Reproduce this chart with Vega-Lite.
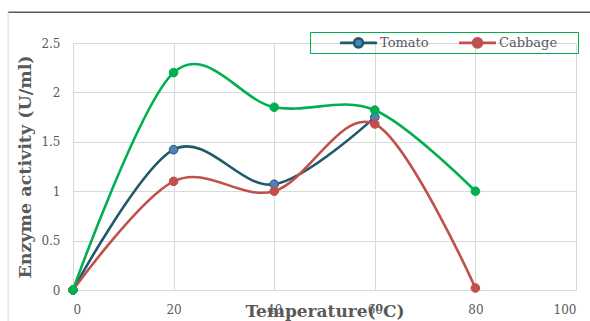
{
  "$schema": "https://vega.github.io/schema/vega-lite/v6.json",
  "autosize": {"type": "none"},
  "width": 503,
  "height": 247,
  "padding": {"left": 73, "top": 43, "right": 14, "bottom": 31},
  "background": "white",
  "config": {
    "view": {"stroke": null},
    "font": "DejaVu Serif",
    "axis": {"labelFont": "DejaVu Serif", "titleFont": "DejaVu Serif", "labelColor": "#595959", "titleColor": "#595959", "gridColor": "#D9D9D9", "gridWidth": 1, "domain": false, "ticks": false}
  },
  "datasets": {
    "main": [
      {"series": "Tomato", "temp": 0, "activity": 0},
      {"series": "Tomato", "temp": 20, "activity": 1.42},
      {"series": "Tomato", "temp": 40, "activity": 1.07},
      {"series": "Tomato", "temp": 60, "activity": 1.75},
      {"series": "Cabbage", "temp": 0, "activity": 0},
      {"series": "Cabbage", "temp": 20, "activity": 1.10},
      {"series": "Cabbage", "temp": 40, "activity": 1.00},
      {"series": "Cabbage", "temp": 60, "activity": 1.68},
      {"series": "Cabbage", "temp": 80, "activity": 0.02},
      {"series": "Series 3", "temp": 0, "activity": 0},
      {"series": "Series 3", "temp": 20, "activity": 2.20},
      {"series": "Series 3", "temp": 40, "activity": 1.85},
      {"series": "Series 3", "temp": 60, "activity": 1.82},
      {"series": "Series 3", "temp": 80, "activity": 1.00}
    ],
    "frame": [
      {"x1": -12.9, "x2": 103, "ytop": 2.81, "ybot": -0.32}
    ]
  },
  "layer": [
    {
      "data": {"name": "frame"},
      "mark": {"type": "rule", "color": "#595959", "strokeWidth": 1.5, "clip": false},
      "encoding": {
        "x": {"field": "x1", "type": "quantitative"},
        "x2": {"field": "x2"},
        "y": {"field": "ytop", "type": "quantitative"}
      }
    },
    {
      "data": {"name": "frame"},
      "mark": {"type": "rule", "color": "#D9D9D9", "strokeWidth": 1, "clip": false},
      "encoding": {
        "x": {"field": "x1", "type": "quantitative"},
        "y": {"field": "ytop", "type": "quantitative"},
        "y2": {"field": "ybot"}
      }
    },
    {
      "data": {"name": "main"},
      "mark": {"type": "line", "interpolate": "cardinal", "tension": 0, "strokeWidth": 2.6},
      "encoding": {
        "x": {"field": "temp", "type": "quantitative", "scale": {"domain": [0, 100], "nice": false, "zero": false},
          "axis": {"values": [0, 20, 40, 60, 80, 100], "labelFontSize": 12, "labelPadding": 14, "title": "Temperature(⁰C)", "titleFontSize": 17, "titleFontWeight": "bold", "titleBaseline": "middle", "titleY": 21, "titleX": 251.5, "titleAlign": "center"}},
        "y": {"field": "activity", "type": "quantitative", "scale": {"domain": [0, 2.5], "nice": false},
          "axis": {"values": [0, 0.5, 1, 1.5, 2, 2.5], "format": "~g", "labelFontSize": 12, "labelPadding": 13, "title": "Enzyme activity (U/ml)", "titleFontSize": 17.5, "titleFontWeight": "bold", "titleAngle": -90, "titleBaseline": "middle", "titleAlign": "center", "titleX": -48, "titleY": 123.5}},
        "color": {"field": "series", "type": "nominal",
          "scale": {"domain": ["Tomato", "Cabbage", "Series 3"], "range": ["#215968", "#C0504D", "#00B050"]},
          "legend": {"values": ["Tomato", "Cabbage"], "title": "\u00a0", "titleOrient": "right", "titlePadding": 21, "titleFontSize": 8, "orient": "none", "direction": "horizontal", "legendX": 237, "legendY": -11,
            "strokeColor": "#00B050", "padding": 0, "labelFontSize": 13, "labelColor": "#595959", "labelFont": "DejaVu Serif",
            "symbolType": "M-2.05,0L-0.5,0M0.5,0L2.05,0M0.5,0A0.5,0.5,0,1,1,-0.5,0A0.5,0.5,0,1,1,0.5,0Z",
            "symbolSize": 324, "symbolStrokeWidth": 2.6, "symbolOffset": 38, "labelOffset": 11, "columnPadding": -6,
            "encode": {"symbols": {"update": {"fill": {"signal": "datum.value === 'Tomato' ? '#4F81BD' : '#C0504D'"}, "stroke": {"signal": "datum.value === 'Tomato' ? '#215968' : '#C0504D'"}}}}}},
        "order": {"value": 0}
      }
    },
    {
      "data": {"name": "main"},
      "mark": {"type": "point", "filled": true, "size": 75, "opacity": 1, "strokeWidth": 1},
      "encoding": {
        "x": {"field": "temp", "type": "quantitative"},
        "y": {"field": "activity", "type": "quantitative"},
        "fill": {"field": "series", "type": "nominal", "scale": {"domain": ["Tomato", "Cabbage", "Series 3"], "range": ["#4F81BD", "#C0504D", "#00B050"]}, "legend": null},
        "stroke": {"field": "series", "type": "nominal", "scale": {"domain": ["Tomato", "Cabbage", "Series 3"], "range": ["#215968", "#C0504D", "#00B050"]}, "legend": null}
      }
    }
  ]
}
